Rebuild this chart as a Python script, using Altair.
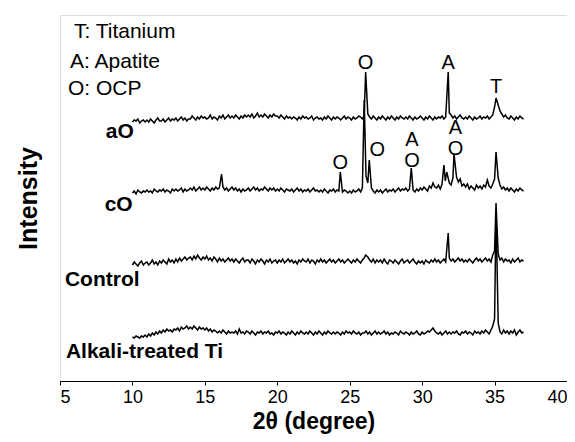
import altair as alt
import pandas as pd

FONT = "Liberation Sans"

# sample positions (2theta, degree) of the baseline readings: 10.0 ... 37.0
grid_x = [round(10 + 0.125 * i, 3) for i in range(217)]

# readings (display units, traces offset) at grid_x; one row per degree
aO_base = [
    259, 261, 260, 262, 258, 260, 261, 259,
    261, 259, 262, 260, 258, 261, 263, 260,
    260, 262, 259, 261, 263, 260, 262, 261,
    263, 260, 262, 264, 261, 263, 260, 262,
    262, 265, 263, 261, 264, 262, 265, 263,
    264, 262, 263, 266, 262, 264, 263, 261,
    265, 263, 266, 262, 264, 266, 263, 265,
    263, 266, 264, 262, 265, 263, 266, 264,
    266, 264, 267, 263, 265, 268, 264, 266,
    264, 267, 265, 263, 266, 264, 267, 265,
    265, 263, 266, 264, 262, 265, 263, 264,
    262, 264, 263, 261, 264, 262, 265, 263,
    264, 262, 263, 265, 261, 263, 264, 262,
    263, 261, 264, 262, 265, 263, 261, 264,
    262, 264, 263, 261, 263, 265, 262, 264,
    263, 261, 264, 262, 263, 265, 264, 262,
    266, 290, 267, 264, 262, 265, 263, 261,
    264, 262, 265, 263, 261, 264, 262, 265,
    263, 261, 264, 262, 265, 263, 262, 264,
    262, 265, 263, 261, 264, 262, 263, 265,
    263, 261, 264, 262, 265, 263, 261, 264,
    262, 264, 263, 265, 262, 264, 290, 268,
    266, 263, 265, 262, 264, 266, 263, 262,
    264, 262, 265, 263, 261, 264, 262, 263,
    265, 262, 264, 263, 265, 262, 264, 266,
    274, 283, 276, 270, 267, 264, 266, 263,
    262, 265, 263, 261, 264, 262, 265, 263,
    262]
aO_peaks_x = [26.1, 31.8, 35.1]
aO_peaks_y = [309, 309, 283]

cO_base = [
    188, 190, 187, 191, 189, 188, 190, 189,
    191, 189, 190, 188, 192, 190, 189, 191,
    190, 192, 189, 191, 190, 188, 192, 190,
    192, 190, 191, 193, 189, 192, 190, 191,
    193, 191, 194, 190, 192, 194, 191, 193,
    191, 194, 192, 190, 193, 191, 194, 192,
    193, 207, 194, 191, 193, 190, 192, 194,
    191, 193, 190, 192, 189, 192, 190, 191,
    193, 190, 192, 194, 191, 193, 190, 192,
    191, 194, 192, 190, 193, 191, 193, 190,
    192, 190, 193, 191, 189, 192, 191, 190,
    192, 189, 191, 193, 190, 192, 189, 191,
    190, 192, 189, 191, 193, 190, 191, 189,
    191, 189, 192, 190, 188, 191, 190, 192,
    189, 191, 190, 200, 189, 191, 190, 188,
    190, 188, 191, 189, 190, 192, 189, 193,
    260, 205, 198, 210, 193, 190, 188, 191,
    189, 191, 188, 190, 192, 189, 191, 190,
    192, 189, 191, 193, 190, 192, 191, 193,
    190, 192, 200, 191, 189, 192, 190, 193,
    191, 194, 192, 190, 195, 193, 198, 194,
    193, 196, 192, 197, 210, 205, 205, 198,
    196, 203, 215, 204, 199, 202, 195, 197,
    194, 197, 192, 195, 193, 191, 196, 193,
    195, 192, 196, 194, 201, 195, 193, 197,
    202, 229, 203, 196, 192, 194, 191, 193,
    190, 193, 191, 189, 192, 190, 193, 191,
    190]
cO_peaks_x = [16.15, 24.35, 26.0, 26.35, 29.25, 31.5, 31.6, 31.7, 32.2, 35.1]
cO_peaks_y = [207, 209, 281, 221, 213, 216, 200, 209, 227, 229]

ctrl_base = [
    116, 119, 117, 115, 118, 120, 116, 118,
    119, 116, 118, 121, 117, 119, 116, 120,
    118, 121, 119, 117, 122, 119, 121, 118,
    122, 119, 123, 120, 122, 124, 121, 123,
    124, 121, 125, 122, 126, 123, 121, 124,
    122, 125, 121, 123, 120, 124, 122, 119,
    123, 120, 122, 119, 121, 123, 120, 122,
    119, 122, 120, 118, 121, 123, 119, 121,
    121, 118, 122, 120, 117, 121, 119, 122,
    120, 117, 121, 119, 122, 118, 120, 121,
    118, 121, 119, 122, 118, 120, 122, 119,
    121, 118, 120, 117, 121, 119, 122, 120,
    119, 122, 118, 121, 120, 117, 121, 119,
    122, 119, 121, 118, 120, 122, 119, 121,
    118, 120, 122, 119, 121, 118, 120, 122,
    120, 118, 121, 119, 122, 120, 118, 121,
    123, 126, 124, 121, 119, 122, 118, 121,
    119, 121, 118, 122, 119, 117, 121, 120,
    118, 121, 119, 117, 120, 122, 118, 120,
    121, 118, 120, 122, 119, 117, 120, 118,
    120, 117, 121, 119, 118, 121, 119, 122,
    119, 121, 118, 120, 122, 119, 148, 123,
    120, 122, 119, 121, 123, 120, 122, 119,
    121, 119, 122, 120, 118, 121, 123, 120,
    122, 119, 121, 123, 120, 122, 119, 126,
    130, 178, 127, 121, 123, 119, 122, 120,
    121, 118, 122, 119, 121, 123, 119, 121,
    120]
ctrl_peaks_x = [26.1, 31.8, 35.1]
ctrl_peaks_y = [126, 148, 178]

alk_base = [
    44, 43, 45, 44, 43, 45, 44, 46,
    44, 47, 45, 48, 46, 49, 47, 50,
    48, 51, 49, 52, 50, 51, 49, 52,
    51, 53, 50, 54, 52, 53, 55, 52,
    54, 52, 55, 53, 51, 54, 52, 53,
    51, 53, 50, 52, 49, 51, 50, 48,
    50, 48, 51, 49, 47, 50, 48, 49,
    48, 50, 47, 52, 48, 49, 47, 50,
    49, 47, 50, 48, 46, 49, 48, 50,
    47, 49, 48, 50, 47, 48, 46, 49,
    48, 50, 47, 49, 48, 46, 49, 47,
    50, 48, 46, 49, 47, 50, 48, 47,
    49, 47, 50, 48, 46, 49, 47, 50,
    48, 46, 49, 47, 50, 48, 47, 49,
    47, 49, 48, 46, 49, 47, 50, 48,
    49, 47, 50, 48, 47, 49, 46, 48,
    48, 50, 47, 49, 46, 48, 50, 47,
    49, 47, 48, 50, 47, 49, 46, 48,
    47, 49, 48, 46, 50, 48, 47, 49,
    48, 46, 49, 47, 48, 50, 47, 46,
    49, 47, 48, 50, 49, 51, 53, 50,
    48, 47, 49, 46, 48, 50, 47, 49,
    47, 49, 48, 50, 47, 46, 49, 48,
    50, 47, 49, 48, 46, 50, 48, 49,
    47, 50, 48, 51, 49, 47, 51, 55,
    62, 170, 58, 49, 47, 51, 48, 50,
    47, 50, 48, 51, 46, 49, 51, 48,
    49]
alk_peaks_x = [35.1]
alk_peaks_y = [170]

# annotation texts
legend_text = ["T: Titanium", "A: Apatite", "O: OCP"]
legend_x = [5.96, 5.69, 5.55]
legend_y = [349, 319, 292]

peak_text = ["O", "A", "T", "O", "O", "A", "O", "A", "O"]
peak_x = [26.1, 31.8, 35.1, 24.35, 26.9, 29.3, 29.3, 32.3, 32.3]
peak_y = [318, 318, 294, 218, 231, 241, 220, 253, 232]

name_text = ["aO", "cO"]
name_x = [9.13, 9.05]
name_y = [249, 176]

name2_text = ["Control", "Alkali-treated Ti"]
name2_x = [5.34, 5.41]
name2_y = [101, 29]


def build(name, base, px, py):
    xs, ys = [], []
    for gx, gy in zip(grid_x, base):
        if min(abs(gx - p) for p in px) > 0.06:
            xs.append(gx)
            ys.append(gy)
    xs += px
    ys += py
    return pd.DataFrame({"x": xs, "y": ys, "series": name}).sort_values("x")


df = pd.concat([
    build("aO", aO_base, aO_peaks_x, aO_peaks_y),
    build("cO", cO_base, cO_peaks_x, cO_peaks_y),
    build("Control", ctrl_base, ctrl_peaks_x, ctrl_peaks_y),
    build("Alkali-treated Ti", alk_base, alk_peaks_x, alk_peaks_y),
], ignore_index=True)
df["order"] = range(len(df))

xscale = alt.Scale(domain=[5, 40], nice=False, zero=False)
yscale = alt.Scale(domain=[0, 366], nice=False, zero=False)

lines = alt.Chart(df).mark_line(color="black", strokeWidth=1.5).encode(
    x=alt.X("x:Q", scale=xscale,
            axis=alt.Axis(title="2θ (degree)", values=[5, 10, 15, 20, 25, 30, 35, 40],
                          grid=False, tickSize=4, tickColor="black", domainColor="black",
                          labelFontSize=18, labelFont=FONT, labelColor="black",
                          labelPadding=3, titleFontSize=23, titleFont=FONT,
                          titleFontWeight="bold", titleColor="black", titlePadding=4)),
    y=alt.Y("y:Q", scale=yscale,
            axis=alt.Axis(title="Intensity", labels=False, ticks=False, domain=False,
                          grid=False, titleFontSize=25, titleFont=FONT,
                          titleFontWeight="bold", titleColor="black", titlePadding=19)),
    detail="series:N",
    order="order:Q",
)

leg = alt.Chart(pd.DataFrame({"t": legend_text, "x": legend_x, "y": legend_y})).mark_text(
    align="left", baseline="middle", fontSize=21, font=FONT, color="black"
).encode(x=alt.X("x:Q", scale=xscale), y=alt.Y("y:Q", scale=yscale), text="t:N")

pk = alt.Chart(pd.DataFrame({"t": peak_text, "x": peak_x, "y": peak_y})).mark_text(
    align="center", baseline="middle", fontSize=20, font=FONT, color="black"
).encode(x=alt.X("x:Q", scale=xscale), y=alt.Y("y:Q", scale=yscale), text="t:N")

nm = alt.Chart(pd.DataFrame({"t": name_text, "x": name_x, "y": name_y})).mark_text(
    align="center", baseline="middle", fontSize=21, font=FONT, fontWeight="bold", color="black"
).encode(x=alt.X("x:Q", scale=xscale), y=alt.Y("y:Q", scale=yscale), text="t:N")

nm2 = alt.Chart(pd.DataFrame({"t": name2_text, "x": name2_x, "y": name2_y})).mark_text(
    align="left", baseline="middle", fontSize=21, font=FONT, fontWeight="bold", color="black"
).encode(x=alt.X("x:Q", scale=xscale), y=alt.Y("y:Q", scale=yscale), text="t:N")

chart = alt.layer(lines, leg, pk, nm, nm2).properties(
    width=507, height=366,
    padding={"left": 52, "top": 7, "right": 0, "bottom": 53},
    autosize=alt.AutoSizeParams(type="none"),
).configure_view(stroke="black", strokeWidth=1.2).configure(background="white")

chart.save("out.html", embed_options={"renderer": "svg", "actions": False})
